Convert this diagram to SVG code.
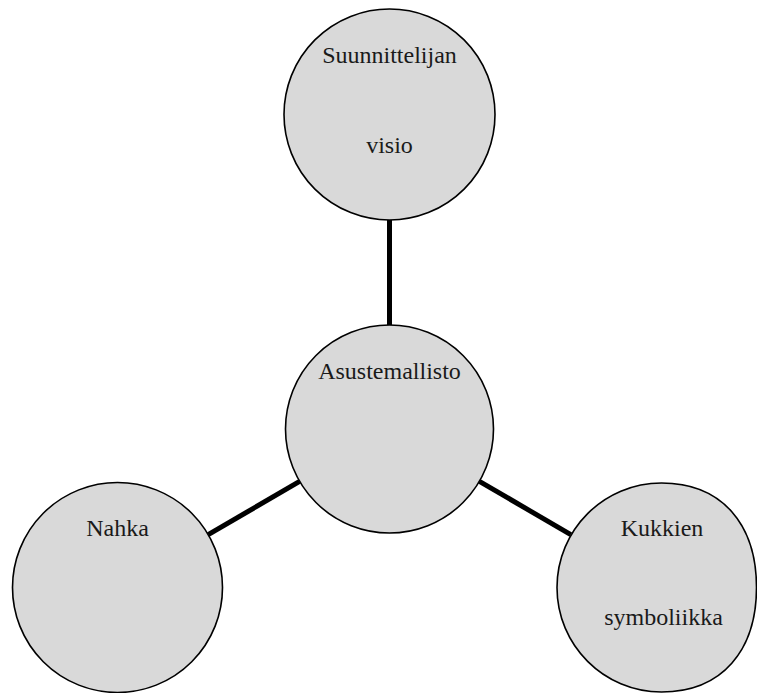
<svg xmlns="http://www.w3.org/2000/svg" width="757" height="693" viewBox="0 0 757 693">
  <style>
    .node { fill: #d9d9d9; stroke: #000000; stroke-width: 1.6; }
    .label { font-family: "Liberation Serif", "Times New Roman", serif; font-size: 24px; fill: #1a1a1a; text-anchor: middle; }
    .edge { stroke: #000000; stroke-width: 5; fill: none; }
  </style>
  <rect width="757" height="693" fill="#ffffff"/>
  <g id="connectors">
    <line class="edge" x1="389.5" y1="220" x2="389.5" y2="325"/>
    <line class="edge" x1="299.6" y1="481.3" x2="208.2" y2="534.7"/>
    <line class="edge" x1="479.4" y1="481.3" x2="570.8" y2="534.7"/>
  </g>
  <g id="node-suunnittelijan-visio">
    <circle class="node" cx="389.5" cy="114.5" r="105.5"/>
    <text class="label" x="389.5" y="63">Suunnittelijan</text>
    <text class="label" x="389.5" y="153">visio</text>
  </g>
  <g id="node-asustemallisto">
    <circle class="node" cx="389.5" cy="429" r="104"/>
    <text class="label" x="389.5" y="379">Asustemallisto</text>
  </g>
  <g id="node-nahka">
    <circle class="node" cx="117.5" cy="587.5" r="105"/>
    <text class="label" x="117.5" y="536">Nahka</text>
  </g>
  <g id="node-kukkien-symboliikka">
    <path class="node" d="M661.5,483 C722.3,483 756.5,524.8 756.5,587.5 C756.5,650.2 722.3,692 661.5,692 C603.8,692 557,645.2 557,587.5 C557,529.8 603.8,483 661.5,483 Z"/>
    <text class="label" x="662" y="536">Kukkien</text>
    <text class="label" x="663.5" y="625">symboliikka</text>
  </g>
</svg>
